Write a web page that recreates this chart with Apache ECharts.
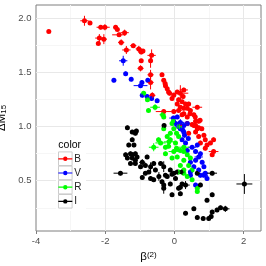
<!DOCTYPE html>
<html><head><meta charset="utf-8">
<script src="https://cdn.jsdelivr.net/npm/echarts@6/dist/echarts.min.js"></script>
<style>html,body{margin:0;padding:0;background:#fff}#c{width:266px;height:266px}</style>
</head><body><div id="c"></div>
<script>
const FONT = 'Liberation Sans, Arial, sans-serif';
const categories = ['B', 'V', 'R', 'I'];
const colors = ['#ff0000', '#0000ff', '#00ff00', '#000000'];

const xTicks = [-4, -2, 0, 2];
const yTicks = [0.5, 1.0, 1.5, 2.0];
const xMajor = [-2, 0, 2];
const xMinor = [-3, -1, 1];
const yMajor = [0.5, 1.0, 1.5, 2.0];
const yMinor = [0.25, 0.75, 1.25, 1.75];

// B
const bX = [-3.63,-2.60,-2.44,-2.13,-2.01,-2.17,-2.04,-2.20,-1.70,-1.65,-1.44,-1.60,-1.54,-1.39,-1.19,-1.03,-0.96,-0.91,-0.66,-0.69,-0.96,-0.98,-0.69,-0.36,-0.31,-0.26,-0.21,-0.14,-0.07,-0.02,0.08,0.17,0.12,0.08,0.22,0.32,0.17,0.27,0.37,0.12,-0.02,-0.31,0.22,0.37,-0.64,-0.69,0.25,0.41,0.66,0.46,0.27,0.56,0.61,0.70,0.51,0.61,0.70,0.27,0.37,0.56,0.66,0.41,0.61,0.70,0.85,0.89,0.75,0.94,1.04,0.89,1.13,1.09,1.13,0.17,0.74,0.79,-0.27,-0.17,0.45,0.60];
const bY = [1.88,1.98,1.96,1.92,1.92,1.82,1.81,1.77,1.92,1.90,1.87,1.85,1.78,1.71,1.75,1.72,1.69,1.70,1.66,1.61,1.61,1.54,1.48,1.48,1.43,1.38,1.35,1.31,1.26,1.29,1.32,1.31,1.25,1.21,1.23,1.21,1.18,1.17,1.17,1.15,1.14,1.14,1.11,1.09,1.29,1.41,1.28,1.21,1.18,1.15,1.12,1.11,1.05,1.05,1.02,1.01,0.99,1.34,1.03,1.01,0.98,0.94,0.95,0.91,0.92,0.88,0.85,0.83,0.85,0.80,0.77,0.74,0.88,1.01,1.06,0.98,1.40,1.32,1.12,1.09];
const bXe = [0.05,0.12,0.05,0.12,0.14,0.12,0.09,0.03,0.05,0.05,0.12,0.20,0.09,0.12,0.09,0.09,0.09,0.05,0.12,0.05,0.05,0.09,0.09,0.05,0.05,0.05,0.05,0.05,0.05,0.05,0.05,0.23,0.05,0.05,0.05,0.05,0.05,0.05,0.05,0.09,0.05,0.23,0.05,0.05,0.09,0.09,0.05,0.05,0.14,0.05,0.05,0.05,0.05,0.05,0.05,0.05,0.05,0.12,0.05,0.05,0.05,0.05,0.05,0.05,0.05,0.05,0.05,0.05,0.05,0.05,0.14,0.05,0.05,0.05,0.05,0.05,0.05,0.05,0.05,0.05];
const bYe = [0.01,0.046,0.01,0.02,0.028,0.037,0.046,0.01,0.01,0.01,0.028,0.02,0.028,0.037,0.02,0.028,0.02,0.01,0.055,0.065,0.01,0.028,0.046,0.02,0.02,0.02,0.02,0.02,0.02,0.02,0.02,0.074,0.02,0.02,0.02,0.02,0.02,0.02,0.02,0.02,0.02,0.02,0.02,0.02,0.028,0.065,0.02,0.02,0.02,0.02,0.02,0.02,0.02,0.02,0.02,0.02,0.02,0.02,0.02,0.02,0.02,0.02,0.02,0.02,0.02,0.02,0.02,0.02,0.02,0.02,0.02,0.02,0.02,0.02,0.02,0.02,0.02,0.02,0.02,0.02];

// V
const vX = [-1.48,-1.41,-1.25,-1.75,-0.94,-0.77,-0.98,-0.93,-0.79,-0.66,-0.50,-0.03,0.08,0.03,0.17,0.27,0.17,0.24,0.12,0.29,0.37,0.22,0.27,0.32,0.51,0.66,0.61,0.75,0.70,0.61,0.80,0.85,0.70,0.56,0.46,0.85,0.94,0.46,0.75,0.89,0.61,0.37,0.40,0.46];
const vY = [1.61,1.49,1.44,1.43,1.41,1.43,1.38,1.29,1.28,1.26,1.24,1.08,1.09,1.03,1.04,1.01,0.98,0.97,1.00,0.92,1.03,0.88,0.95,0.85,0.81,0.83,0.77,0.75,0.72,0.69,0.67,0.63,0.60,0.63,0.55,0.55,0.52,0.58,0.55,0.57,0.46,0.78,0.89,0.67];
const vXe = [0.12,0.05,0.05,0.05,0.05,0.05,0.20,0.05,0.05,0.05,0.05,0.12,0.05,0.09,0.12,0.05,0.05,0.05,0.05,0.05,0.05,0.05,0.05,0.05,0.12,0.05,0.05,0.05,0.12,0.05,0.05,0.05,0.05,0.05,0.05,0.12,0.05,0.05,0.05,0.09,0.05,0.05,0.05,0.05];
const vYe = [0.046,0.02,0.02,0.02,0.02,0.02,0.02,0.02,0.02,0.02,0.02,0.02,0.02,0.03,0.03,0.02,0.02,0.02,0.02,0.02,0.02,0.02,0.02,0.02,0.02,0.02,0.02,0.02,0.02,0.02,0.02,0.02,0.02,0.02,0.02,0.02,0.02,0.02,0.02,0.02,0.02,0.02,0.02,0.02];

// R
const rX = [-0.89,-0.78,-0.75,-0.56,-0.34,-0.03,0.14,-0.31,-0.07,-0.02,-0.60,-0.40,-0.21,-0.12,-0.16,-0.26,-0.02,0.08,0.17,-0.07,0.27,0.17,0.27,-0.31,0.06,0.12,0.03,0.27,0.27,0.37,0.46,0.41,0.51,0.27,0.37,0.12,0.51,0.66,0.66,-0.12,0.06,-0.17,-0.46,-0.26];
const rY = [1.31,1.25,1.15,1.18,1.11,1.05,1.00,1.09,1.03,0.98,0.81,0.85,0.91,0.94,0.86,0.75,0.77,0.72,0.78,0.71,0.69,0.64,0.57,0.98,0.94,0.91,0.85,0.81,0.77,0.74,0.71,0.64,0.60,0.60,0.54,0.58,0.51,0.43,0.40,0.88,0.80,0.82,0.88,0.81];
const rXe = [0.05,0.05,0.05,0.14,0.09,0.05,0.05,0.05,0.05,0.05,0.14,0.15,0.05,0.05,0.15,0.05,0.15,0.05,0.15,0.05,0.05,0.05,0.05,0.05,0.05,0.05,0.05,0.15,0.05,0.05,0.05,0.05,0.05,0.05,0.05,0.05,0.05,0.05,0.05,0.05,0.05,0.05,0.05,0.05];
const rYe = [0.02,0.02,0.02,0.028,0.02,0.02,0.02,0.02,0.02,0.02,0.037,0.02,0.02,0.02,0.02,0.02,0.02,0.02,0.02,0.02,0.02,0.02,0.02,0.02,0.02,0.02,0.02,0.02,0.02,0.02,0.02,0.02,0.02,0.02,0.02,0.02,0.02,0.02,0.02,0.02,0.02,0.02,0.02,0.02];

// I
const iX = [-1.36,-1.10,-0.30,-1.13,-1.17,-1.22,-1.08,-1.13,-0.93,-0.79,-0.84,-0.98,-0.69,-0.74,-0.55,-0.40,-0.31,-0.12,-0.02,0.08,-0.21,-0.69,-0.60,-1.22,-1.32,-1.41,-1.27,-1.22,-1.36,-1.13,-1.27,-1.56,-1.13,-0.93,-0.84,-0.45,-0.60,-0.36,-0.31,-0.26,-0.07,-0.12,0.03,0.22,0.12,-0.31,-0.07,0.17,0.17,0.32,0.75,1.09,0.94,0.56,0.32,0.66,0.83,0.99,1.06,1.09,1.23,1.33,1.47,2.02,1.09,0.66,0.22,-1.22];
const iY = [0.99,0.96,1.01,0.94,0.83,0.74,0.72,0.69,0.67,0.72,0.64,0.63,0.63,0.58,0.60,0.66,0.63,0.60,0.57,0.58,0.54,0.52,0.66,0.95,0.83,0.74,0.75,0.71,0.71,0.66,0.66,0.57,0.75,0.53,0.57,0.54,0.51,0.49,0.46,0.55,0.56,0.47,0.52,0.47,0.43,0.43,0.37,0.38,0.44,0.46,0.46,0.37,0.32,0.24,0.20,0.16,0.15,0.15,0.17,0.21,0.23,0.25,0.24,0.47,0.57,0.57,0.58,0.88];
const iXe = [0.05,0.05,0.05,0.05,0.05,0.05,0.05,0.05,0.09,0.05,0.05,0.05,0.05,0.05,0.05,0.05,0.05,0.05,0.05,0.05,0.05,0.05,0.05,0.05,0.05,0.05,0.05,0.05,0.05,0.05,0.05,0.20,0.05,0.05,0.05,0.05,0.05,0.05,0.05,0.05,0.05,0.05,0.05,0.05,0.05,0.05,0.05,0.05,0.05,0.12,0.05,0.05,0.05,0.05,0.05,0.05,0.05,0.05,0.05,0.05,0.05,0.05,0.12,0.23,0.14,0.05,0.05,0.05];
const iYe = [0.02,0.02,0.02,0.02,0.02,0.02,0.02,0.02,0.03,0.02,0.02,0.02,0.04,0.02,0.02,0.02,0.05,0.02,0.02,0.02,0.02,0.02,0.02,0.02,0.02,0.02,0.02,0.02,0.02,0.02,0.02,0.02,0.02,0.02,0.02,0.04,0.02,0.02,0.02,0.02,0.02,0.02,0.02,0.02,0.02,0.05,0.02,0.02,0.02,0.037,0.02,0.02,0.02,0.02,0.02,0.02,0.02,0.02,0.02,0.02,0.02,0.02,0.028,0.092,0.02,0.02,0.02,0.02];

const groups = [[bX,bY,bXe,bYe],[vX,vY,vXe,vYe],[rX,rY,rXe,rYe],[iX,iY,iXe,iYe]];
function rows(g){ return g[0].map((x,i)=>[x, g[1][i], g[2][i], g[3][i]]); }

function errRender(color){
  return function(params, api){
    const x = api.value(0), y = api.value(1), xe = api.value(2), ye = api.value(3);
    const l = api.coord([x - xe, y]), r = api.coord([x + xe, y]);
    const t = api.coord([x, y + ye]), b = api.coord([x, y - ye]);
    return {type:'group', children:[
      {type:'line', shape:{x1:l[0],y1:l[1],x2:r[0],y2:r[1]}, style:{stroke:color, lineWidth:1}},
      {type:'line', shape:{x1:t[0],y1:t[1],x2:b[0],y2:b[1]}, style:{stroke:color, lineWidth:1}}
    ]};
  };
}

const gridLineData = []
  .concat(xMinor.map(v=>({xAxis:v, lineStyle:{color:'#f6f6f6'}})))
  .concat(yMinor.map(v=>({yAxis:v, lineStyle:{color:'#f6f6f6'}})))
  .concat(xMajor.map(v=>({xAxis:v, lineStyle:{color:'#e8e8e8'}})))
  .concat(yMajor.map(v=>({yAxis:v, lineStyle:{color:'#e8e8e8'}})));

const series = [{
  type:'scatter', name:'_grid', data:[], silent:true, z:1,
  markLine:{silent:true, symbol:'none', z:1, animation:false, label:{show:false},
    lineStyle:{type:'solid', width:1}, emphasis:{disabled:true}, data:gridLineData}
}];
categories.forEach((c,k)=>{
  series.push({type:'scatter', name:c, data:rows(groups[k]).map(r=>[r[0],r[1]]),
    symbolSize:5, itemStyle:{color:colors[k], opacity:1}, z:3, emphasis:{disabled:true}});
});
categories.forEach((c,k)=>{
  series.push({type:'custom', name:c, data:rows(groups[k]), renderItem:errRender(colors[k]),
    encode:{x:0,y:1}, itemStyle:{color:colors[k]}, z:4, clip:true, silent:true});
});

const legendIcon = 'path://M0 6.4H14V7.6H0Z M7 4.8A2.2 2.2 0 0 1 7 9.2A2.2 2.2 0 0 1 7 4.8Z';

const option = {
  animation:false,
  textStyle:{fontFamily:FONT},
  grid:{left:36, right:5, top:5, bottom:35, outerBoundsMode:'none', containLabel:false,
    show:true, borderColor:'#7f7f7f', borderWidth:1, backgroundColor:'#fff'},
  xAxis:{type:'value', min:-4, max:2.5,
    axisLine:{show:false}, splitLine:{show:false},
    axisTick:{show:true, length:3, lineStyle:{color:'#7f7f7f'}, customValues:xTicks},
    axisLabel:{customValues:xTicks, color:'#4d4d4d', fontSize:9.5, margin:5, fontFamily:FONT, formatter:v=>String(v)},
    name:'{a|β}{b|(2)}', nameLocation:'middle', nameGap:17,
    nameTextStyle:{fontFamily:FONT, rich:{a:{fontSize:11.5, color:'#000', fontFamily:FONT}, b:{fontSize:8, color:'#000', verticalAlign:'top', fontFamily:FONT}}}
  },
  yAxis:{type:'value', min:0.035, max:2.126,
    axisLine:{show:false}, splitLine:{show:false},
    axisTick:{show:true, length:3, lineStyle:{color:'#7f7f7f'}, customValues:yTicks},
    axisLabel:{customValues:yTicks, color:'#4d4d4d', fontSize:9.5, margin:4.5, fontFamily:FONT, formatter:v=>v.toFixed(1)},
    name:'{a|ΔM}{b|15}', nameLocation:'middle', nameGap:21,
    nameTextStyle:{fontFamily:FONT, rich:{a:{fontSize:11.5, color:'#000', fontFamily:FONT}, b:{fontSize:8, color:'#000', verticalAlign:'bottom', fontFamily:FONT}}}
  },
  legend:{data:categories, orient:'vertical', left:58.3, top:151.7, padding:0, itemGap:0,
    itemWidth:14, itemHeight:14, icon:legendIcon, symbolKeepAspect:true, z:20,
    textStyle:{fontSize:10, color:'#222', fontFamily:FONT, lineHeight:14.2, height:14.2, padding:[0,0,0,-3]}},
  graphic:[
    {type:'rect', z:15, silent:true, shape:{x:56, y:137, width:30, height:74}, style:{fill:'#fff'}},
    {type:'text', z:16, silent:true, x:58.3, y:140, style:{text:'color', fontSize:10.5, fill:'#000', fontFamily:FONT}},
    ...[0,1,2,3].map(i=>({type:'rect', z:16, silent:true, shape:{x:58.5, y:151.9 + i*14.2, width:13.6, height:13.6}, style:{fill:'#fff', stroke:'#cccccc', lineWidth:1}}))
  ],
  series:series
};
const chart = echarts.init(document.getElementById('c'), null, {renderer:'canvas'});
chart.setOption(option);
</script></body></html>
